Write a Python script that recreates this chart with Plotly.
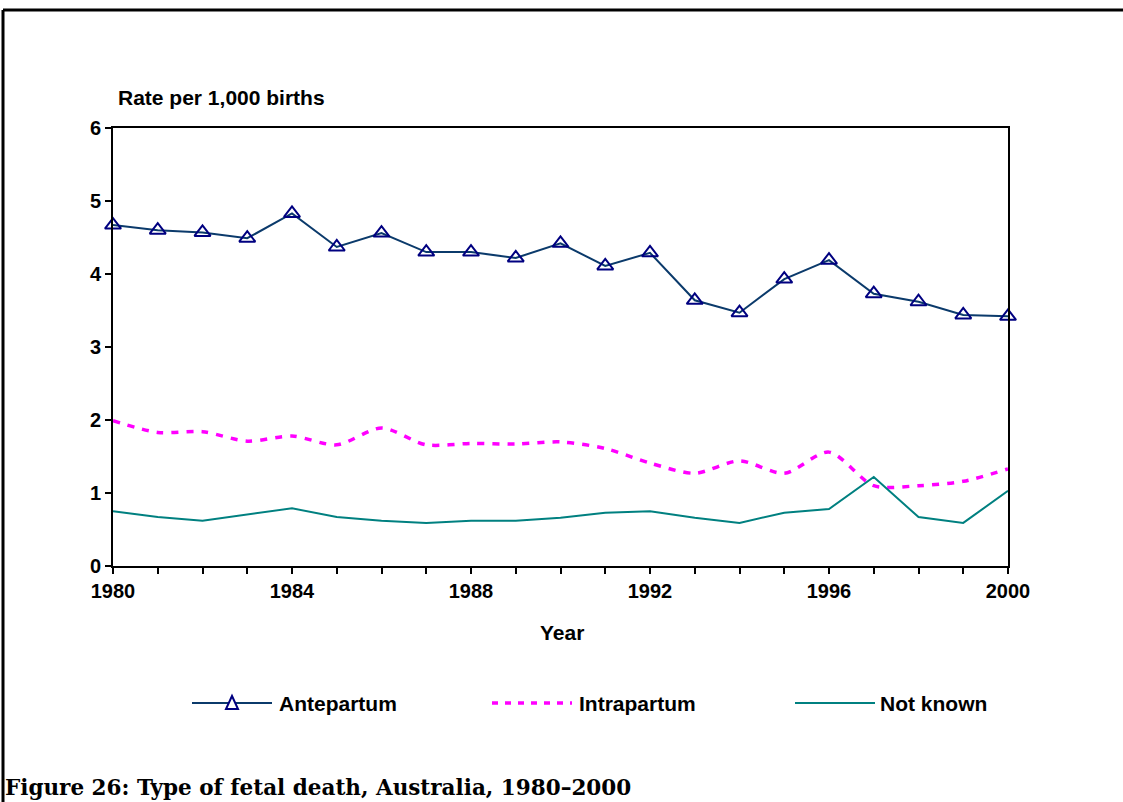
import plotly.graph_objects as go

years = list(range(1980, 2001))
antepartum = [4.67, 4.60, 4.57, 4.49, 4.83, 4.37, 4.56, 4.30, 4.30, 4.22,
              4.42, 4.11, 4.29, 3.64, 3.47, 3.93, 4.19, 3.73, 3.62, 3.44, 3.42]
intrapartum = [1.99, 1.83, 1.84, 1.71, 1.78, 1.66, 1.89, 1.66, 1.68, 1.67,
               1.70, 1.61, 1.41, 1.27, 1.44, 1.27, 1.56, 1.10, 1.10, 1.16, 1.33]
not_known = [0.75, 0.67, 0.62, 0.71, 0.79, 0.67, 0.62, 0.59, 0.62, 0.62,
             0.66, 0.73, 0.75, 0.66, 0.59, 0.73, 0.78, 1.22, 0.67, 0.59, 1.03]
x_tick_labels = [1980, 1984, 1988, 1992, 1996, 2000]
y_tick_labels = [0, 1, 2, 3, 4, 5, 6]

W, H = 1123, 802
L, R, T, B = 113, 115, 128, 236
PW, PH = W - L - R, H - T - B

def px_x(p):
    return (p - L) / PW

def px_y(p):
    return (H - B - p) / PH

NAVY_LINE = "#0b3a6b"
NAVY = "#000080"
MAGENTA = "#ff00ff"
TEAL = "#008080"
FONT = "Liberation Sans, Arial, sans-serif"

fig = go.Figure()
fig.add_trace(go.Scatter(
    x=years, y=antepartum, name="Antepartum", mode="lines+markers",
    line=dict(color=NAVY_LINE, width=2),
    marker=dict(symbol="triangle-up-open", size=14, color=NAVY,
                line=dict(width=2, color=NAVY)),
    cliponaxis=False))
fig.add_trace(go.Scatter(
    x=years, y=intrapartum, name="Intrapartum", mode="lines",
    line=dict(color=MAGENTA, width=3.5, dash="7px,8px", shape="spline", smoothing=0.8),
    cliponaxis=False))
fig.add_trace(go.Scatter(
    x=years, y=not_known, name="Not known", mode="lines",
    line=dict(color=TEAL, width=2), cliponaxis=False))

shapes = []
# outer frame (top and left)
shapes.append(dict(type="line", xref="paper", yref="paper",
                   x0=px_x(3), x1=px_x(1125), y0=px_y(10), y1=px_y(10),
                   line=dict(color="black", width=3)))
shapes.append(dict(type="line", xref="paper", yref="paper",
                   x0=px_x(3), x1=px_x(3), y0=px_y(10), y1=px_y(805),
                   line=dict(color="black", width=3)))

# custom legend
ly = 703
shapes.append(dict(type="line", xref="paper", yref="paper",
                   x0=px_x(192), x1=px_x(272), y0=px_y(ly), y1=px_y(ly),
                   line=dict(color=NAVY_LINE, width=2)))
tri = "M {x0},{y0} L {x1},{y1} L {x2},{y2} Z".format(
    x0=px_x(232), y0=px_y(ly - 7), x1=px_x(226), y1=px_y(ly + 6),
    x2=px_x(238), y2=px_y(ly + 6))
shapes.append(dict(type="path", xref="paper", yref="paper", path=tri,
                   fillcolor="white", line=dict(color=NAVY, width=2)))
shapes.append(dict(type="line", xref="paper", yref="paper",
                   x0=px_x(492), x1=px_x(572), y0=px_y(ly), y1=px_y(ly),
                   line=dict(color=MAGENTA, width=3.5, dash="6px,7px")))
shapes.append(dict(type="line", xref="paper", yref="paper",
                   x0=px_x(795), x1=px_x(875), y0=px_y(ly), y1=px_y(ly),
                   line=dict(color=TEAL, width=2)))

annotations = []
def ann(text, xp, yp, xanchor="left", size=20, family=FONT):
    annotations.append(dict(text=text, xref="paper", yref="paper",
                            x=px_x(xp), y=px_y(yp), xanchor=xanchor, yanchor="middle",
                            showarrow=False,
                            font=dict(family=family, size=size, color="black", weight="bold")))

ann("Antepartum", 277, ly, size=21)
ann("Intrapartum", 577, ly, size=21)
ann("Not known", 878, ly, size=21)
ann("Rate per 1,000 births", 116, 98, size=21)
ann("Year", 562, 632, xanchor="center", size=21)
ann("Figure 26: Type of fetal death, Australia, 1980\u20132000", 3, 787,
    size=21.5, family="DejaVu Serif, serif")

fig.update_layout(
    width=W, height=H, autosize=False,
    margin=dict(l=L, r=R, t=T, b=B, pad=0),
    paper_bgcolor="white", plot_bgcolor="white",
    showlegend=False,
    shapes=shapes, annotations=annotations,
    xaxis=dict(range=[1980, 2000], tickvals=x_tick_labels,
               ticktext=[str(v) for v in x_tick_labels],
               ticks="outside", ticklen=6, tickwidth=2, tickcolor="black",
               minor=dict(dtick=1, tick0=1980, ticks="outside", ticklen=6,
                          tickwidth=2, tickcolor="black"),
               showline=True, linecolor="black", linewidth=2, mirror=True,
               showgrid=False, zeroline=False,
               tickfont=dict(family=FONT, size=20, color="black", weight="bold")),
    yaxis=dict(range=[0, 6], tickvals=y_tick_labels,
               ticks="outside", ticklen=6, tickwidth=2, tickcolor="black",
               showline=True, linecolor="black", linewidth=2, mirror=True,
               showgrid=False, zeroline=False,
               tickfont=dict(family=FONT, size=20, color="black", weight="bold")),
)

fig.write_html("out.html", config={"displayModeBar": False},
               post_script="document.body.style.margin='0';document.body.style.overflow='hidden';")
